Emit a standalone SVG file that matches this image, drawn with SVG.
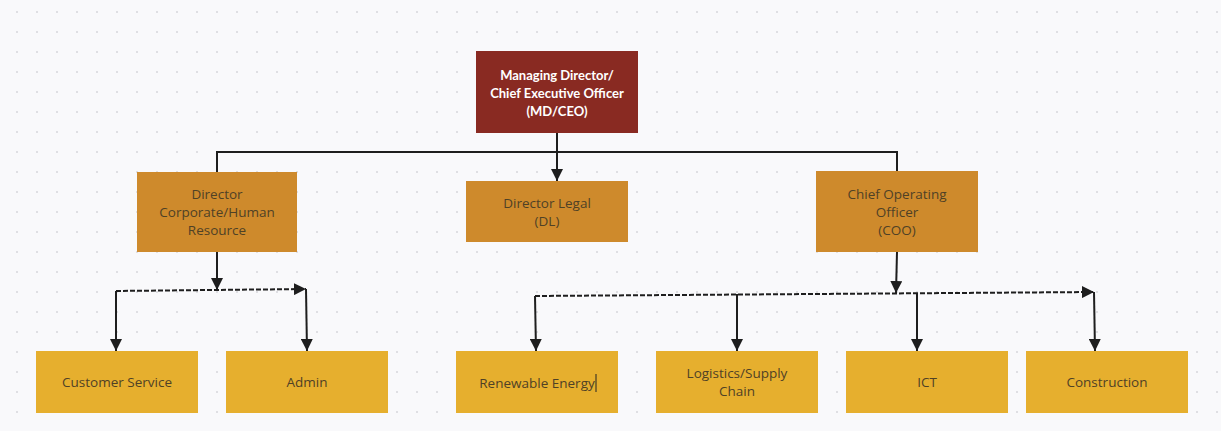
<svg xmlns="http://www.w3.org/2000/svg" width="1221" height="431" viewBox="0 0 1221 431">
  <defs>
    <pattern id="dots" x="0" y="0" width="20" height="20" patternUnits="userSpaceOnUse">
      <circle cx="17" cy="12" r="1.1" fill="#d9d9de"/>
    </pattern>
    <marker id="arr" viewBox="0 0 10 10" refX="10" refY="5" markerWidth="6" markerHeight="6" orient="auto" markerUnits="strokeWidth">
      <path d="M0,0 L10,5 L0,10 Z" fill="#1e1e1e"/>
    </marker>
    <style>
      .ceo { fill: #892a22; }
      .dir { fill: #ce8a2c; }
      .unit { fill: #e6af2e; }
      .t { font-family: "Open Sans", "Noto Sans", sans-serif; font-size: 13.5px; fill: #4f4126; text-anchor: middle; }
      .tw { font-family: Lato, "Open Sans", sans-serif; font-size: 13px; font-weight: bold; fill: #ffffff; text-anchor: middle; }
      .ln { stroke: #1e1e1e; stroke-width: 2; fill: none; }
      .dash { stroke-dasharray: 5 2; }
    </style>
  </defs>
  <rect width="1221" height="431" fill="#f9f9fb"/>
  <rect width="1221" height="431" fill="url(#dots)"/>

  <g id="connectors">
    <polyline class="ln" points="217,172 217,152 897,152 897,171"/>
    <line class="ln" x1="557" y1="133" x2="557" y2="181" marker-end="url(#arr)"/>
    <line class="ln" x1="217" y1="252" x2="217" y2="290" marker-end="url(#arr)"/>
    <line class="ln dash" x1="116" y1="291" x2="306" y2="289" marker-end="url(#arr)"/>
    <line class="ln" x1="116" y1="291" x2="116" y2="351" marker-end="url(#arr)"/>
    <line class="ln" x1="306" y1="289" x2="307" y2="351" marker-end="url(#arr)"/>
    <line class="ln" x1="897" y1="252" x2="896" y2="293" marker-end="url(#arr)"/>
    <line class="ln dash" x1="535" y1="296" x2="1094" y2="292" marker-end="url(#arr)"/>
    <line class="ln" x1="535" y1="296" x2="536" y2="351" marker-end="url(#arr)"/>
    <line class="ln" x1="737" y1="294" x2="737" y2="351" marker-end="url(#arr)"/>
    <line class="ln" x1="917" y1="294" x2="917" y2="351" marker-end="url(#arr)"/>
    <line class="ln" x1="1094" y1="292" x2="1095" y2="351" marker-end="url(#arr)"/>
  </g>

  <g id="ceo">
    <rect class="ceo" x="476" y="51" width="162" height="82"/>
    <text class="tw" x="557" y="80">Managing Director/</text>
    <text class="tw" x="557" y="98">Chief Executive Officer</text>
    <text class="tw" x="557" y="116">(MD/CEO)</text>
  </g>
  <g id="director-corporate">
    <rect class="dir" x="137" y="172" width="160" height="80"/>
    <text class="t" x="217" y="199">Director</text>
    <text class="t" x="217" y="217">Corporate/Human</text>
    <text class="t" x="217" y="235">Resource</text>
  </g>
  <g id="director-legal">
    <rect class="dir" x="466" y="181" width="162" height="61"/>
    <text class="t" x="547" y="208">Director Legal</text>
    <text class="t" x="547" y="226">(DL)</text>
  </g>
  <g id="coo">
    <rect class="dir" x="816" y="171" width="162" height="81"/>
    <text class="t" x="897" y="199">Chief Operating</text>
    <text class="t" x="897" y="217">Officer</text>
    <text class="t" x="897" y="235">(COO)</text>
  </g>
  <g id="customer-service">
    <rect class="unit" x="36" y="351" width="162" height="62"/>
    <text class="t" x="117" y="387">Customer Service</text>
  </g>
  <g id="admin">
    <rect class="unit" x="226" y="351" width="162" height="62"/>
    <text class="t" x="307" y="387">Admin</text>
  </g>
  <g id="renewable-energy">
    <rect class="unit" x="456" y="351" width="162" height="62"/>
    <text class="t" x="537" y="388">Renewable Energy</text>
    <line x1="596" y1="374" x2="596" y2="392" stroke="#222" stroke-width="1"/>
  </g>
  <g id="logistics">
    <rect class="unit" x="656" y="351" width="162" height="62"/>
    <text class="t" x="737" y="378">Logistics/Supply</text>
    <text class="t" x="737" y="396">Chain</text>
  </g>
  <g id="ict">
    <rect class="unit" x="846" y="351" width="162" height="62"/>
    <text class="t" x="927" y="387">ICT</text>
  </g>
  <g id="construction">
    <rect class="unit" x="1026" y="351" width="162" height="62"/>
    <text class="t" x="1107" y="387">Construction</text>
  </g>
</svg>
